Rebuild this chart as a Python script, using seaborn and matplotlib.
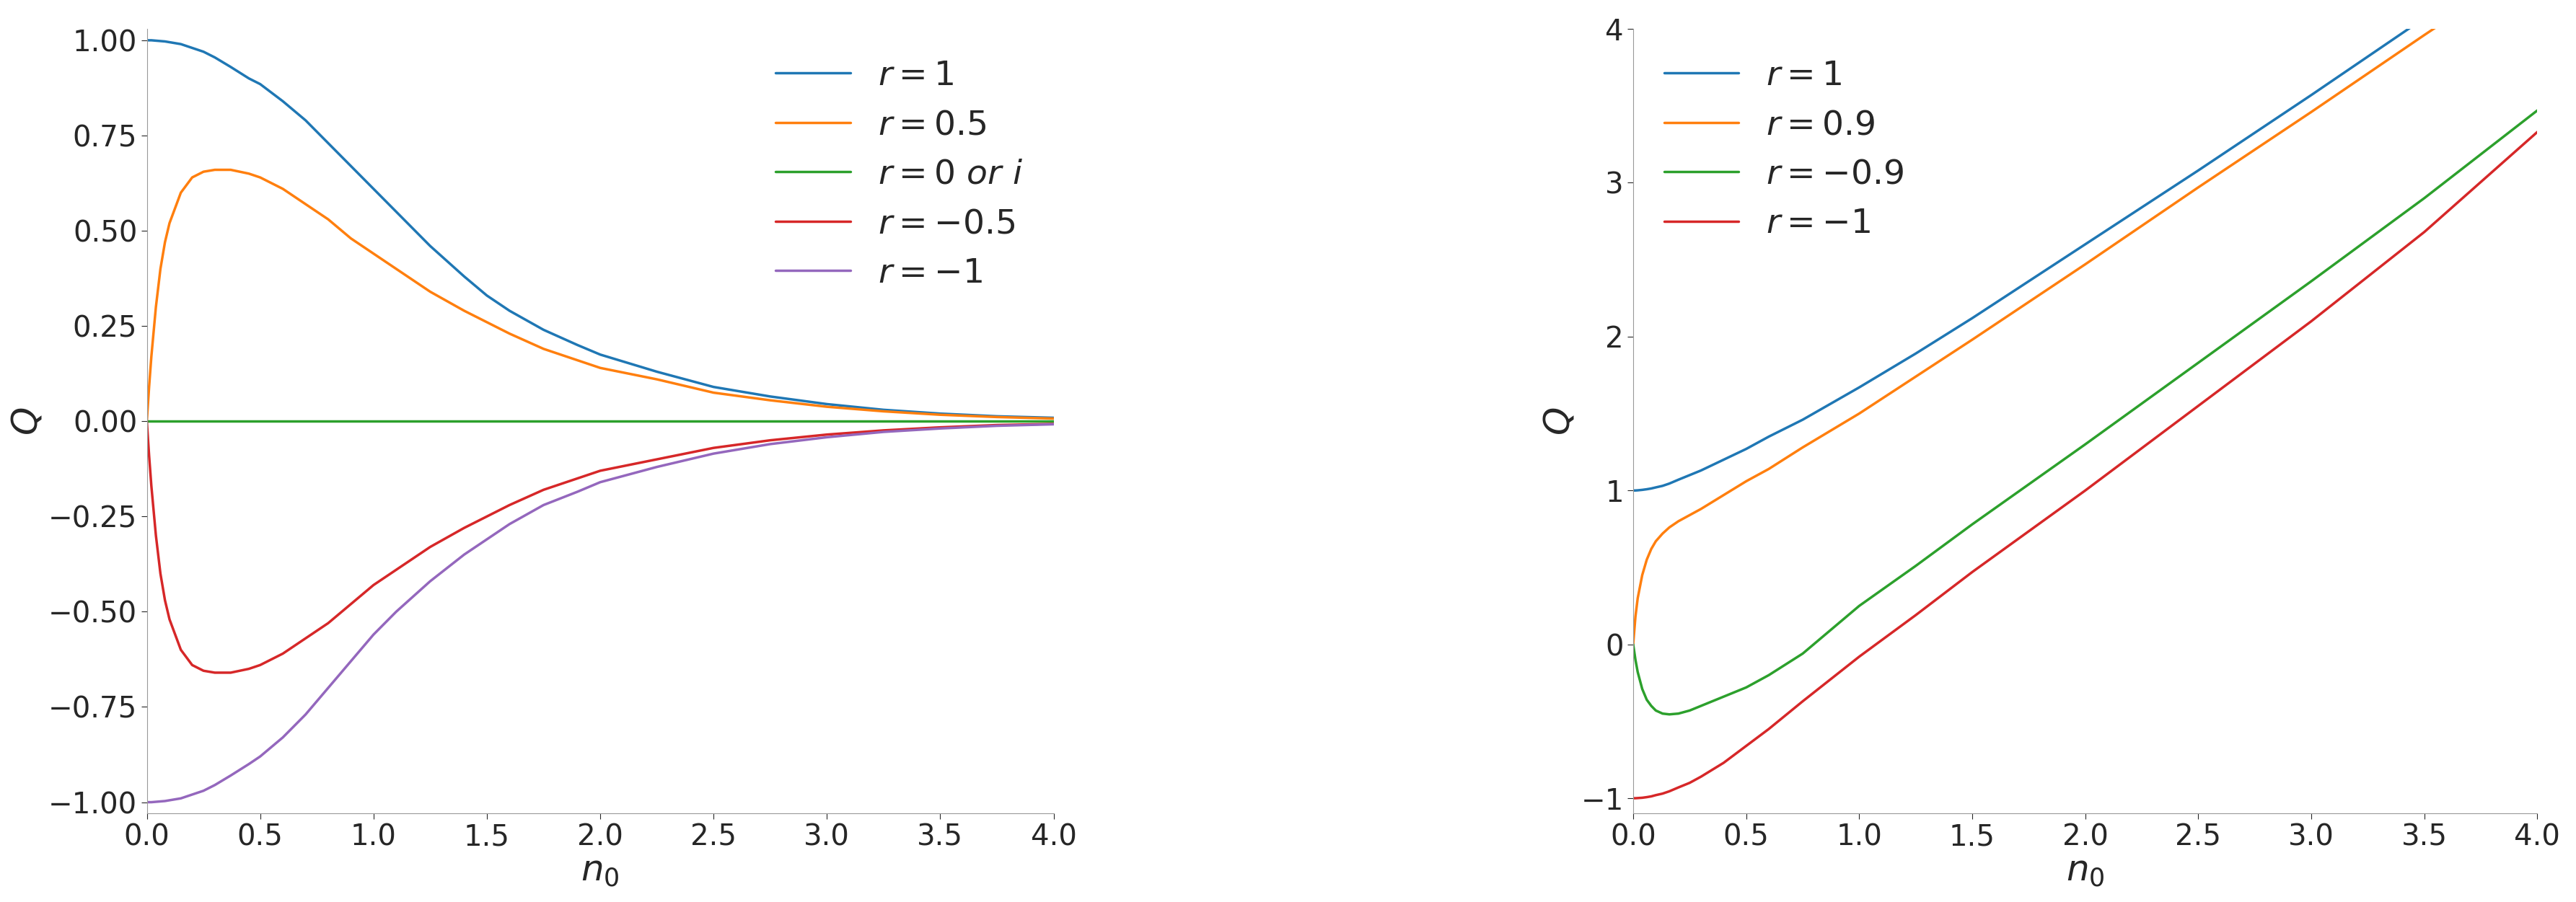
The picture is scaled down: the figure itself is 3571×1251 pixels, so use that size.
import numpy as np
import seaborn as sns
import matplotlib.pyplot as plt

# Left panel: values
x_left = [0, 0.01, 0.02, 0.04, 0.06, 0.08, 0.1, 0.15, 0.2, 0.25, 0.3, 0.37, 0.45, 0.5, 0.6, 0.7, 0.8, 0.9,
          1.0, 1.1, 1.25, 1.4, 1.5, 1.6, 1.75, 1.9, 2.0, 2.25, 2.5, 2.75, 3.0, 3.25, 3.5, 3.75, 4.0]
q_r1 = [1, 1, 1, 0.999, 0.998, 0.997, 0.995, 0.99, 0.98, 0.97, 0.955, 0.93, 0.9, 0.885, 0.84, 0.79, 0.73, 0.67,
        0.61, 0.55, 0.46, 0.38, 0.33, 0.29, 0.24, 0.2, 0.175, 0.13, 0.09, 0.065, 0.045, 0.03, 0.02, 0.013, 0.009]
q_r05 = [0, 0.09, 0.17, 0.3, 0.4, 0.47, 0.52, 0.6, 0.64, 0.655, 0.66, 0.66, 0.65, 0.64, 0.61, 0.57, 0.53, 0.48,
         0.44, 0.40, 0.34, 0.29, 0.26, 0.23, 0.19, 0.16, 0.14, 0.11, 0.075, 0.055, 0.038, 0.026, 0.017, 0.011, 0.007]
q_r0 = [0.0] * len(x_left)
q_rm05 = [-0.0, -0.09, -0.17, -0.3, -0.4, -0.47, -0.52, -0.6, -0.64, -0.655, -0.66, -0.66, -0.65, -0.64, -0.61, -0.57, -0.53, -0.48,
          -0.43, -0.39, -0.33, -0.28, -0.25, -0.22, -0.18, -0.15, -0.13, -0.1, -0.07, -0.05, -0.035, -0.024, -0.016, -0.01, -0.007]
q_rm1 = [-1, -1, -1, -0.999, -0.998, -0.997, -0.995, -0.99, -0.98, -0.97, -0.955, -0.93, -0.9, -0.88, -0.83, -0.77, -0.7, -0.63,
         -0.56, -0.5, -0.42, -0.35, -0.31, -0.27, -0.22, -0.185, -0.16, -0.12, -0.085, -0.06, -0.042, -0.028, -0.019, -0.012, -0.008]
labels_left = [r"$r=1$", r"$r=0.5$", r"$r=0\ or\ i$", r"$r=-0.5$", r"$r=-1$"]

# Right panel
x_right = [0, 0.01, 0.02, 0.04, 0.06, 0.08, 0.1, 0.13, 0.16, 0.2, 0.25, 0.3, 0.4, 0.5, 0.6, 0.75,
           1.0, 1.25, 1.5, 2.0, 2.5, 3.0, 3.5, 4.0]
p_r1 = [1, 1, 1.001, 1.004, 1.008, 1.013, 1.02, 1.03, 1.045, 1.07, 1.1, 1.13, 1.2, 1.27, 1.35, 1.46,
        1.67, 1.89, 2.12, 2.6, 3.08, 3.57, 4.07, 4.57]
p_r09 = [0, 0.18, 0.3, 0.45, 0.55, 0.62, 0.67, 0.72, 0.76, 0.8, 0.84, 0.88, 0.97, 1.06, 1.14, 1.28,
         1.5, 1.74, 1.98, 2.47, 2.97, 3.46, 3.96, 4.45]
p_rm09 = [0, -0.1, -0.18, -0.29, -0.36, -0.4, -0.43, -0.45, -0.455, -0.45, -0.43, -0.4, -0.34, -0.28, -0.2, -0.06,
          0.25, 0.51, 0.78, 1.3, 1.83, 2.36, 2.9, 3.47]
p_rm1 = [-1, -1, -0.999, -0.997, -0.993, -0.988, -0.98, -0.97, -0.955, -0.93, -0.9, -0.86, -0.77, -0.66, -0.55, -0.37,
         -0.08, 0.19, 0.47, 1.0, 1.55, 2.1, 2.68, 3.33]
labels_right = [r"$r=1$", r"$r=0.9$", r"$r=-0.9$", r"$r=-1$"]

sns.set_style("white")
plt.rcParams['font.family'] = ['DejaVu Sans']
plt.rcParams['mathtext.fontset'] = 'dejavusans'
colors = sns.color_palette("tab10")

fig = plt.figure(figsize=(35.71, 12.51), dpi=100)
ax1 = fig.add_axes([0.057, 0.098, 0.352, 0.87])
ax2 = fig.add_axes([0.634, 0.098, 0.351, 0.87])

for i, (ys, lab) in enumerate(zip([q_r1, q_r05, q_r0, q_rm05, q_rm1], labels_left)):
    sns.lineplot(x=x_left, y=ys, ax=ax1, color=colors[i], lw=2.5, label=lab)
for i, (ys, lab) in enumerate(zip([p_r1, p_r09, p_rm09, p_rm1], labels_right)):
    sns.lineplot(x=x_right, y=ys, ax=ax2, color=colors[i], lw=2.5, label=lab)

ax1.set_xlim(0, 4)
ax1.set_ylim(-1.03, 1.03)
ax1.set_yticks(np.arange(-1, 1.01, 0.25))
ax2.set_xlim(0, 4)
ax2.set_ylim(-1.1, 4)
ax2.set_yticks(range(-1, 5))

for ax in (ax1, ax2):
    ax.set_xticks(np.arange(0, 4.01, 0.5))
    ax.set_xlabel(r"$n_0$", fontsize=36, labelpad=2)
    ax.set_ylabel(r"$Q$", fontsize=36, labelpad=4)
    ax.tick_params(labelsize=29, length=6, left=True, bottom=True)
    ax.spines['top'].set_visible(False)
    ax.spines['right'].set_visible(False)
    ax.spines['left'].set_color('#999999')
    ax.spines['bottom'].set_color('#999999')

ax1.legend(loc='upper right', bbox_to_anchor=(1.0, 1.0), frameon=False, fontsize=34, handlelength=2.2)
ax2.legend(loc='upper left', bbox_to_anchor=(0.0, 1.0), frameon=False, fontsize=34, handlelength=2.2)

fig.savefig("out.png", dpi=100)
